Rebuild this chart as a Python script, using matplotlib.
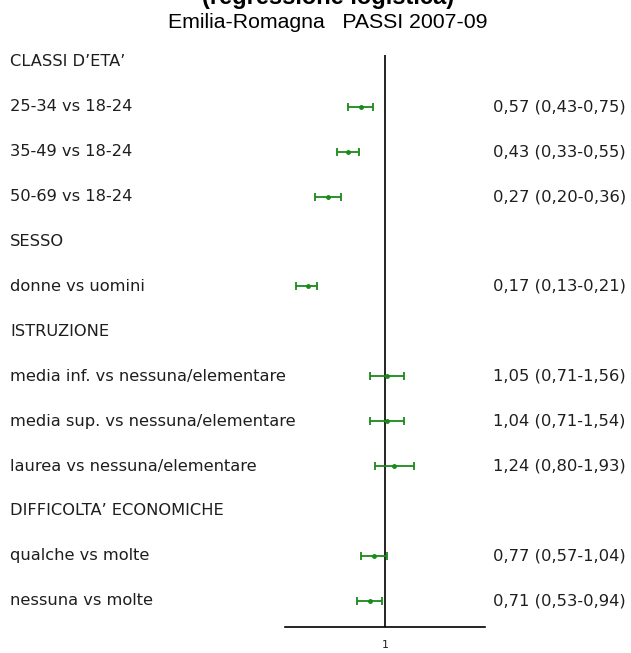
import matplotlib.pyplot as plt
import matplotlib.transforms as mtransforms

# rows, top to bottom (None = section header, no estimate)
labels = ["CLASSI D\u2019ETA\u2019", "25-34 vs 18-24", "35-49 vs 18-24", "50-69 vs 18-24",
          "SESSO", "donne vs uomini",
          "ISTRUZIONE", "media inf. vs nessuna/elementare", "media sup. vs nessuna/elementare",
          "laurea vs nessuna/elementare",
          "DIFFICOLTA\u2019 ECONOMICHE", "qualche vs molte", "nessuna vs molte"]
odds = [None, 0.57, 0.43, 0.27, None, 0.17, None, 1.05, 1.04, 1.24, None, 0.77, 0.71]
lower = [None, 0.43, 0.33, 0.20, None, 0.13, None, 0.71, 0.71, 0.80, None, 0.57, 0.53]
upper = [None, 0.75, 0.55, 0.36, None, 0.21, None, 1.56, 1.54, 1.93, None, 1.04, 0.94]

W, H = 631, 653
fig = plt.figure(figsize=(W / 100, H / 100), dpi=100)

# axis box in pixels: x 285..485, y 55..627 (from top)
ax = fig.add_axes([285 / W, (H - 627) / H, 200 / W, (627 - 55) / H])
ax.set_xscale("log")
ax.set_xlim(0.1, 10)
row0, step = 62, 44.9
ax.set_ylim((627 - row0) / step, (55 - row0) / step)

for s in ["top", "right", "left"]:
    ax.spines[s].set_visible(False)
ax.spines["bottom"].set_linewidth(1.2)
ax.set_yticks([])
ax.set_xticks([1])
ax.set_xticklabels(["1"])
ax.minorticks_off()
ax.tick_params(axis="x", length=0, pad=9, labelsize=8, labelcolor="#222222")

ax.plot([1, 1], [ax.get_ylim()[1], ax.get_ylim()[0]], color="black", lw=1.2)

green = "#1a8a1a"
txtcol = "#1e1e1e"
trans_l = mtransforms.blended_transform_factory(fig.transFigure, ax.transData)
for i, lab in enumerate(labels):
    fig.text(10 / W, i, lab, transform=trans_l, va="center", ha="left",
             fontsize=11.7, family="DejaVu Sans", color=txtcol)
    if odds[i] is None:
        continue
    ax.errorbar(odds[i], i, xerr=[[odds[i] - lower[i]], [upper[i] - odds[i]]],
                fmt="o", ms=2.5, color=green, ecolor=green, elinewidth=1.3,
                capsize=3, capthick=1.3)
    txt = "%s (%s-%s)" % tuple(("%.2f" % v).replace(".", ",") for v in (odds[i], lower[i], upper[i]))
    fig.text(493 / W, i, txt, transform=trans_l, va="center", ha="left",
             fontsize=11.8, family="DejaVu Sans", color=txtcol)

# title is partly cut at the top edge, as in the source
fig.text(328 / W, 1 - 4 / H, "(regressione logistica)", ha="center", va="baseline",
         fontsize=17, fontweight="bold", family="Liberation Sans")
fig.text(328 / W, 1 - 28 / H, "Emilia-Romagna   PASSI 2007-09", ha="center", va="baseline",
         fontsize=15.3, family="Liberation Sans")

fig.savefig("out.png", dpi=100)
